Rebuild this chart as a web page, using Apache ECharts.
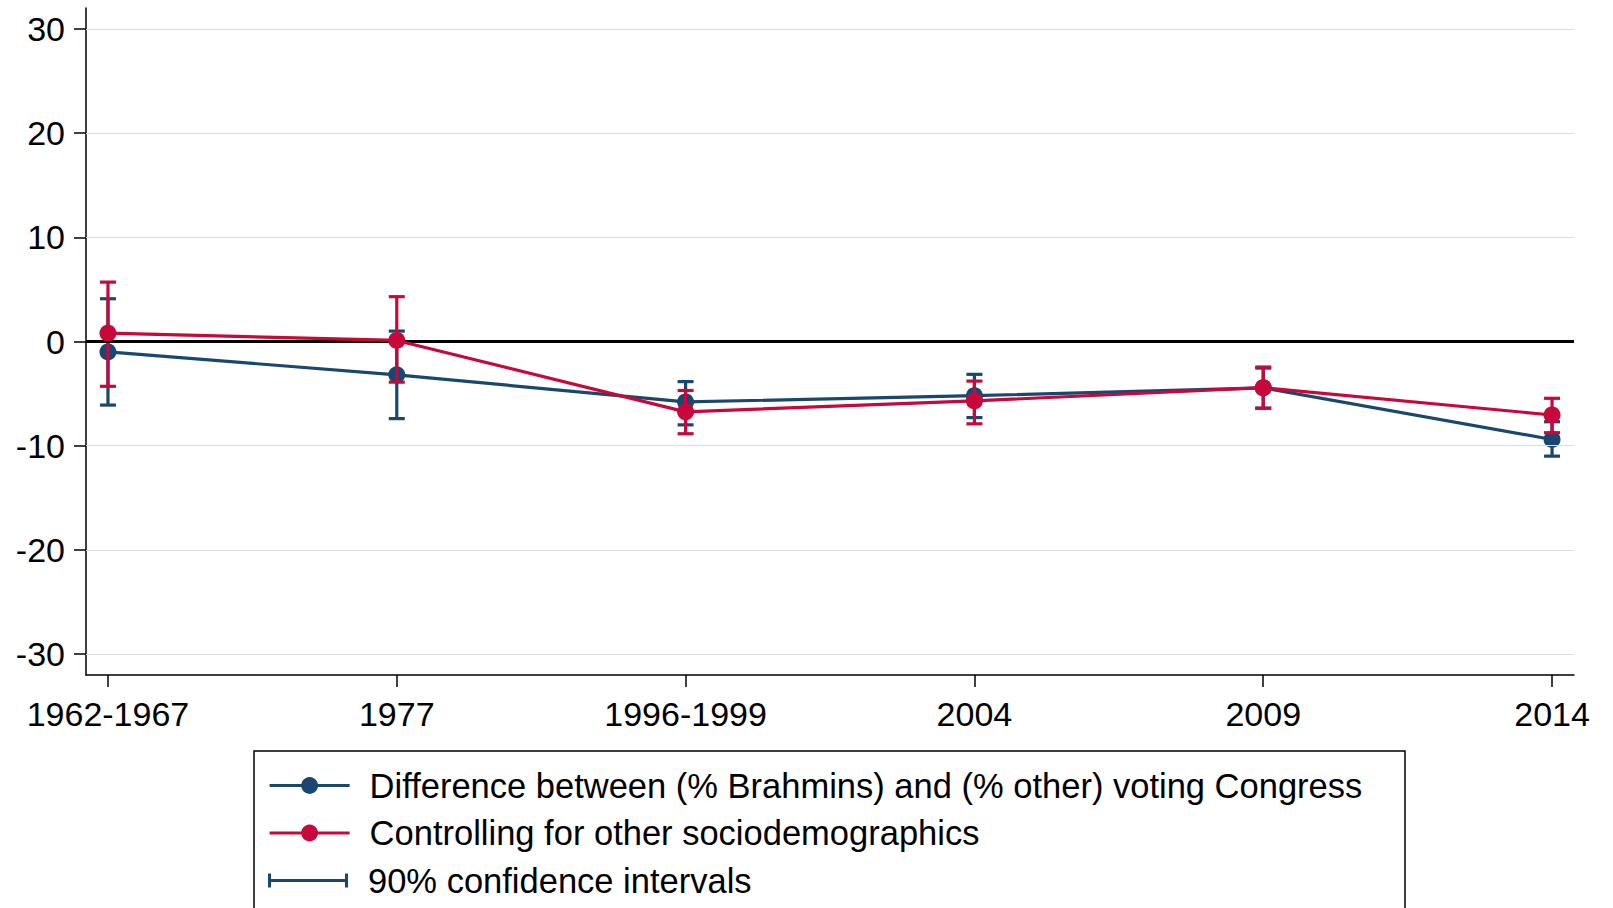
<!DOCTYPE html>
<html>
<head>
<meta charset="utf-8">
<script src="https://cdn.jsdelivr.net/npm/echarts@6/dist/echarts.min.js"></script>
<style>html,body{margin:0;padding:0;background:#fff;}#chart{width:1613px;height:908px;}</style>
</head>
<body>
<div id="chart"></div>
<script>
const categories = ['1962-1967', '1977', '1996-1999', '2004', '2009', '2014'];
const yTicks = [-30, -20, -10, 0, 10, 20, 30];
const diffName = 'Difference between (% Brahmins) and (% other) voting Congress';
const ctrlName = 'Controlling for other sociodemographics';
const ciName = '90% confidence intervals';
const diffValues = [-1.0, -3.2, -5.8, -5.2, -4.45, -9.4];
const diffLow = [-6.1, -7.4, -8.0, -7.3, -6.4, -11.0];
const diffHigh = [4.1, 1.0, -3.85, -3.15, -2.55, -7.7];
const ctrlValues = [0.8, 0.1, -6.75, -5.7, -4.43, -7.05];
const ctrlLow = [-4.3, -3.9, -8.85, -7.9, -6.4, -8.75];
const ctrlHigh = [5.7, 4.3, -4.7, -3.8, -2.45, -5.45];

const BLUE = '#1a476f';
const RED = '#c8073a';
const FONT = '"Liberation Sans", Arial, sans-serif';

function errRender(color) {
  return function (params, api) {
    const x = api.value(0), lo = api.value(1), hi = api.value(2);
    const p1 = api.coord([x, hi]);
    const p2 = api.coord([x, lo]);
    const w = 8;
    const st = { stroke: color, lineWidth: 3.2 };
    return {
      type: 'group',
      children: [
        { type: 'line', shape: { x1: p1[0], y1: p1[1], x2: p2[0], y2: p2[1] }, style: st },
        { type: 'line', shape: { x1: p1[0] - w, y1: p1[1], x2: p1[0] + w, y2: p1[1] }, style: st },
        { type: 'line', shape: { x1: p2[0] - w, y1: p2[1], x2: p2[0] + w, y2: p2[1] }, style: st }
      ]
    };
  };
}

function legendAt(name, top, icon) {
  const item = { name: name };
  if (icon) item.icon = icon;
  return {
    orient: 'vertical', left: 268, top: top, padding: 0,
    itemWidth: 80, itemHeight: 21, itemGap: 0,
    lineStyle: { width: 3.2 },
    textStyle: { color: '#000', fontSize: 34.5, fontFamily: FONT, lineHeight: 40, padding: [0, 0, 0, 15] },
    data: [item]
  };
}

const chart = echarts.init(document.getElementById('chart'), null, { renderer: 'svg' });
chart.setOption({
  animation: false,
  backgroundColor: '#fff',
  textStyle: { fontFamily: FONT },
  grid: { left: 86, right: 39, top: 8, bottom: 233, containLabel: false },
  xAxis: {
    type: 'value', min: -0.076, max: 5.076,
    axisLine: { show: true, onZero: false, lineStyle: { color: '#000', width: 1.5 } },
    axisTick: { show: true, length: 12, customValues: categories.map((c, i) => i), lineStyle: { color: '#000', width: 1.5 } },
    axisLabel: {
      customValues: categories.map((c, i) => i),
      formatter: v => categories[Math.round(v)],
      color: '#000', fontSize: 34, fontFamily: FONT, margin: 22
    },
    splitLine: { show: false }
  },
  yAxis: {
    type: 'value', min: -32, max: 32,
    axisLine: { show: true, onZero: false, lineStyle: { color: '#000', width: 1.5 } },
    axisTick: { show: true, length: 12, customValues: yTicks, lineStyle: { color: '#000', width: 1.5 } },
    axisLabel: { customValues: yTicks, color: '#000', fontSize: 34, fontFamily: FONT, margin: 21 },
    splitLine: { show: false }
  },
  legend: [
    legendAt(diffName, 765.5),
    legendAt(ctrlName, 813),
    legendAt(ciName, 860.5, 'path://M0,0h3v14h-3z M3,5.5h74v3h-74z M77,0h3v14h-3z')
  ],
  graphic: [{
    type: 'rect', z: 100, silent: true,
    shape: { x: 254, y: 751, width: 1151, height: 200 },
    style: { fill: 'none', stroke: '#000', lineWidth: 1.5 }
  }],
  series: [
    {
      name: 'grid', type: 'line', data: [], z: 1, silent: true,
      markLine: {
        silent: true, symbol: ['none', 'none'], label: { show: false },
        data: yTicks.map(v => ({
          yAxis: v,
          lineStyle: v === 0 ? { color: '#000', width: 3, type: 'solid' } : { color: '#dcdcdc', width: 1, type: 'solid' }
        }))
      }
    },
    {
      name: ciName, type: 'custom', z: 2,
      itemStyle: { color: BLUE },
      renderItem: errRender(BLUE),
      encode: { x: 0, y: [1, 2] },
      data: categories.map((c, i) => [i, diffLow[i], diffHigh[i]])
    },
    {
      name: diffName, type: 'line', z: 3,
      data: diffValues.map((v, i) => [i, v]),
      symbol: 'circle', symbolSize: 17,
      lineStyle: { color: BLUE, width: 3.2 },
      itemStyle: { color: BLUE }
    },
    {
      name: 'ciCtrl', type: 'custom', z: 4,
      itemStyle: { color: RED },
      renderItem: errRender(RED),
      encode: { x: 0, y: [1, 2] },
      data: categories.map((c, i) => [i, ctrlLow[i], ctrlHigh[i]])
    },
    {
      name: ctrlName, type: 'line', z: 5,
      data: ctrlValues.map((v, i) => [i, v]),
      symbol: 'circle', symbolSize: 17,
      lineStyle: { color: RED, width: 3.2 },
      itemStyle: { color: RED }
    }
  ]
});
</script>
</body>
</html>
